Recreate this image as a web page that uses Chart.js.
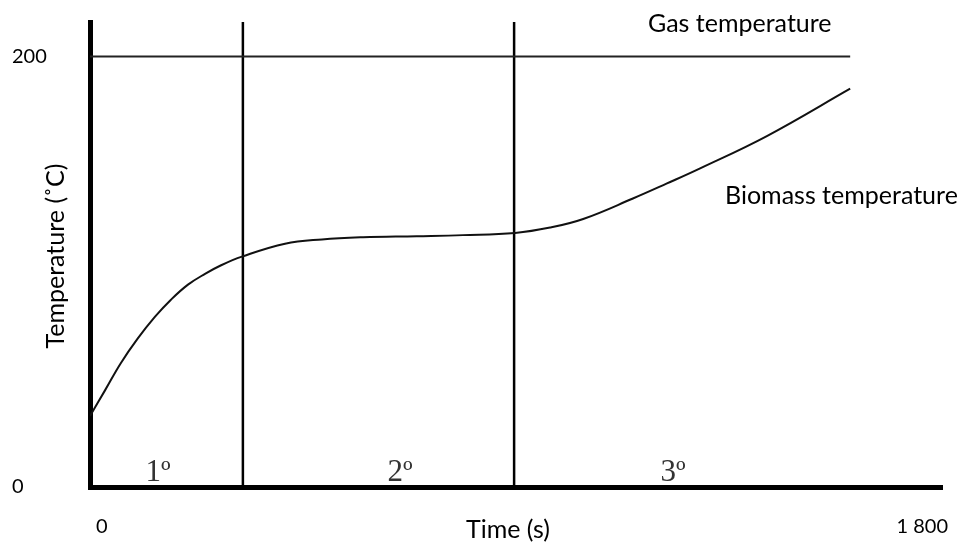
<!DOCTYPE html>
<html>
<head>
<meta charset="utf-8">
<script src="https://cdn.jsdelivr.net/npm/chart.js@4.4.0/dist/chart.umd.min.js"></script>
<style>
  html, body { margin: 0; padding: 0; background: #fff; }
  #wrap { width: 961px; height: 544px; }
</style>
</head>
<body>
<div id="wrap"><canvas id="tempChart"></canvas></div>
<script>
// values
const timeS = [0, 32, 65, 101, 137, 171, 207, 243, 277, 321, 412, 490, 577, 690, 788, 898, 972, 1042, 1147, 1219, 1289, 1430, 1606];
const biomassC = [33, 45, 57.5, 69, 79, 87, 94, 99, 103, 107, 113, 115, 116, 116.5, 117, 118, 120.5, 124.5, 134, 141, 148, 163, 185];
const gasTimeS = [0, 1606];
const gasC = [200, 200];
const phaseBoundS = [323, 896];
const phaseNames = ['1º', '2º', '3º'];
const phaseNameS = [144, 655, 1232];
const xTicks = [0, 1800];
const yTicks = [0, 200];

const FONT = 'Lato, "Open Sans", sans-serif';

const biomassPts = timeS.map((t, i) => ({ x: t, y: biomassC[i] }));
const gasPts = gasTimeS.map((t, i) => ({ x: t, y: gasC[i] }));

const boundSets = phaseBoundS.map(t => ({
  data: [{ x: t, y: 0 }, { x: t, y: 216 }],
  borderColor: '#000',
  borderWidth: 2.5,
  pointRadius: 0
}));

// axis titles, line names and phase numbers
const textPlugin = {
  id: 'texts',
  afterDraw(chart) {
    const c = chart.ctx;
    const xs = chart.scales.x, ys = chart.scales.y;
    c.save();
    c.fillStyle = '#000';
    c.font = '25px ' + FONT;
    c.textAlign = 'center';
    c.textBaseline = 'middle';
    c.fillText('Time (s)', 508, 530);
    c.save();
    c.translate(56, 256);
    c.rotate(-Math.PI / 2);
    c.fillText('Temperature (˚C)', 0, 0);
    c.restore();
    c.textAlign = 'left';
    c.fillText('Gas temperature', 648, 24);
    c.fillText('Biomass temperature', 725, 196);
    c.font = '31px "Liberation Serif", serif';
    c.fillStyle = '#333';
    c.textAlign = 'center';
    c.textBaseline = 'alphabetic';
    phaseNames.forEach((n, i) => {
      c.fillText(n, xs.getPixelForValue(phaseNameS[i]), ys.getPixelForValue(3));
    });
    c.restore();
  }
};

new Chart(document.getElementById('tempChart'), {
  type: 'line',
  data: {
    datasets: [
      {
        label: 'Biomass temperature',
        data: biomassPts,
        borderColor: '#111',
        borderWidth: 2,
        pointRadius: 0,
        tension: 0.4
      },
      {
        label: 'Gas temperature',
        data: gasPts,
        borderColor: '#222',
        borderWidth: 2,
        pointRadius: 0
      },
      ...boundSets
    ]
  },
  options: {
    responsive: true,
    maintainAspectRatio: false,
    animation: false,
    layout: { padding: { left: 12, top: 22, right: 19, bottom: 0 } },
    plugins: { legend: { display: false }, tooltip: { enabled: false } },
    scales: {
      x: {
        type: 'linear',
        min: 0,
        max: 1800,
        grid: { display: false },
        border: { display: true, color: '#000', width: 5 },
        afterBuildTicks: s => { s.ticks = xTicks.map(v => ({ value: v })); },
        afterFit: s => { s.height = 57; s.paddingLeft = 0; s.paddingRight = 0; },
        ticks: {
          padding: 20,
          align: 'inner',
          labelOffset: 6,
          color: '#000',
          font: { family: FONT, size: 20 },
          callback: v => v === 1800 ? '1 800' : String(v)
        }
      },
      y: {
        min: 0,
        max: 216,
        grid: { display: false },
        border: { display: true, color: '#000', width: 5 },
        afterBuildTicks: s => { s.ticks = yTicks.map(v => ({ value: v })); },
        afterFit: s => { s.width = 78; s.paddingTop = 0; s.paddingBottom = 0; },
        ticks: {
          crossAlign: 'far',
          color: '#000',
          font: { family: FONT, size: 20 }
        }
      }
    }
  },
  plugins: [textPlugin]
});
</script>
</body>
</html>
